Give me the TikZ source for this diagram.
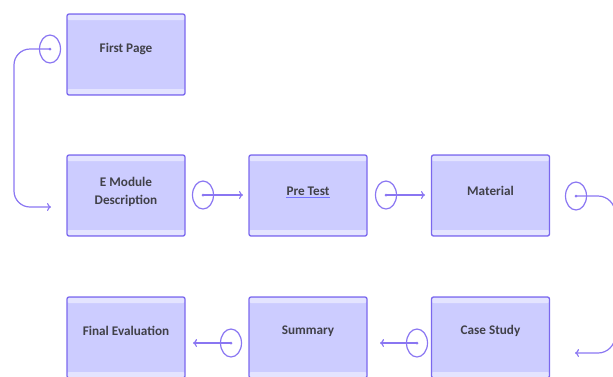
\documentclass[tikz,border=0pt]{standalone}
\usepackage{fontspec}
\setmainfont{Carlito}
\usetikzlibrary{arrows.meta,shapes.geometric}
\definecolor{boxfill}{HTML}{CCCCFF}
\definecolor{boxedge}{HTML}{7B68EE}
\definecolor{stripc}{HTML}{E4E4FF}
\definecolor{linec}{HTML}{8A76F2}
\definecolor{txtc}{HTML}{404048}
\tikzset{
  box/.style={draw=boxedge, line width=1.3pt, fill=boxfill, rounded corners=2pt,
    minimum width=118pt, minimum height=81pt, inner sep=0pt,
    path picture={
      \fill[stripc] ([yshift=-1pt]path picture bounding box.north west) rectangle ([yshift=-6pt]path picture bounding box.north east);
      \fill[stripc] ([yshift=1pt]path picture bounding box.south west) rectangle ([yshift=6pt]path picture bounding box.south east);
    }},
  lbl/.style={font=\fontsize{13.2}{16}\selectfont\bfseries, text=txtc, align=center, inner sep=0pt},
  ring/.style={ellipse, draw=linec, line width=1.2pt, minimum width=21pt, minimum height=28pt, inner sep=0pt},
  conn/.style={draw=linec, line width=1.2pt, -{To[length=4pt,width=8pt]}},
  dotc/.style={fill=linec, circle, inner sep=0pt, minimum size=3pt}
}
\begin{document}
\begin{tikzpicture}[x=1pt,y=-1pt]
\useasboundingbox (0,0) rectangle (613,376);
\clip (0,0) rectangle (613,376);
% boxes
\node[box] (fp) at (126,54.5) {};
\node[box] (em) at (126,195.5) {};
\node[box] (pt) at (308,195.5) {};
\node[box] (ma) at (490.5,195.5) {};
\node[box] (fe) at (126,337.5) {};
\node[box] (su) at (308,337.5) {};
\node[box] (cs) at (490.5,337.5) {};
% labels
\node[lbl] (tfp) at (126,49) {First Page};
\node[lbl] (tem) at (126,192) {E Module\\[2pt]Description};
\node[lbl] (tpt) at (308,191) {Pre Test};
\draw[blue!55, line width=0.7pt] ([yshift=-2pt]tpt.south west) -- ([yshift=-2pt]tpt.south east);
\node[lbl] (tma) at (490.5,191) {Material};
\node[lbl] (tfe) at (126,331) {Final Evaluation};
\node[lbl] (tsu) at (308,331) {Summary};
\node[lbl] (tcs) at (490.5,331) {Case Study};
% rings
\node[ring] (r1) at (50,49) {};
\node[ring] (r2) at (203,195) {};
\node[ring] (r3) at (386,195) {};
\node[ring] (r4) at (576,196) {};
\node[ring] (r5) at (417,343) {};
\node[ring] (r6) at (231,343) {};
\foreach \r in {r1,r2,r3,r4,r5,r6} \node[dotc] at (\r.center) {};
% free ends
\coordinate (e1) at (51,207);
\coordinate (e2) at (243,195);
\coordinate (e3) at (425,195);
\coordinate (e4) at (575,353);
\coordinate (e5) at (380,343);
\coordinate (e6) at (193,343);
% connectors
\draw[conn, rounded corners=16pt] (r1.center) -- (14,49) -- (14,207) -- (e1);
\draw[conn] (r2.center) -- (e2);
\draw[conn] (r3.center) -- (e3);
\draw[conn, rounded corners=17pt] (r4.center) -- (615,196) -- (615,353) -- (e4);
\draw[conn] (r5.center) -- (e5);
\draw[conn] (r6.center) -- (e6);
\end{tikzpicture}
\end{document}
